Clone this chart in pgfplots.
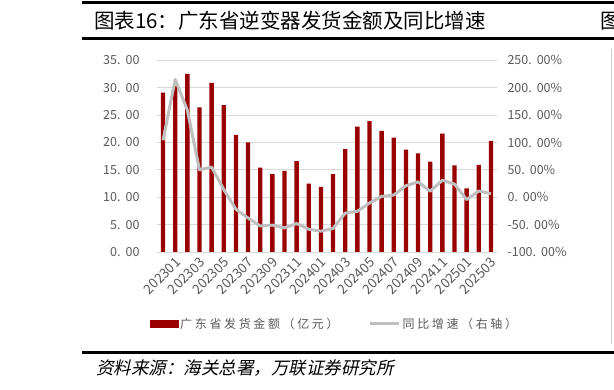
\documentclass[border=0pt]{standalone}
\usepackage{fontspec}
\setmainfont{Noto Sans CJK SC}
\newfontfamily\kai[FakeSlant=0.22]{Noto Sans CJK SC}
\newfontfamily\legfont[LetterSpace=22]{Noto Sans CJK SC}
\usepackage{pgfplots}
\pgfplotsset{compat=1.18}
\definecolor{barred}{HTML}{990000}
\definecolor{linegray}{HTML}{BFBFBF}
\definecolor{tickgray}{HTML}{595959}
\definecolor{gridgray}{HTML}{D9D9D9}
\begin{document}
\begin{tikzpicture}
\path[use as bounding box] (0pt,0pt) rectangle (614pt,389pt);
% header
\draw[black, line width=3pt] (82pt,386pt) -- (614pt,386pt);
\draw[black, line width=3pt] (82pt,350pt) -- (614pt,350pt);
\node[anchor=west, font=\fontsize{20.5}{21}\selectfont, inner sep=0pt] at (94pt,368pt) {图表16：广东省逆变器发货金额及同比增速};
\begin{scope}
\clip (590pt,352pt) rectangle (614pt,384pt);
\node[anchor=west, font=\fontsize{20.5}{21}\selectfont, inner sep=0pt] at (600pt,368pt) {图};
\end{scope}
\draw[gray!40, line width=0.6pt] (611pt,340pt) -- (611pt,45pt);
% footer
\draw[black, line width=3pt] (82pt,37pt) -- (614pt,37pt);
\node[anchor=west, font=\kai\fontsize{17.5}{18}\selectfont, inner sep=0pt, text=black] at (96pt,21pt) {资料来源：海关总署，万联证券研究所};

\begin{axis}[
  at={(157pt,137pt)}, anchor=south west,
  scale only axis, width=340pt, height=191.7pt,
  xmin=-0.5, xmax=27.5, ymin=0, ymax=35,
  ytick={0,5,...,35},
  xtick={0,2,...,26},
  xticklabels={202301,202303,202305,202307,202309,202311,202401,202403,202405,202407,202409,202411,202501,202503},
  axis line style={draw=none},
  major tick length=0pt,
  ymajorgrids, grid style={draw=gridgray, line width=0.9pt},
  tick label style={text=tickgray, font=\fontsize{12.5}{13}\selectfont},
  x tick label style={rotate=45, anchor=north east, inner sep=1pt, yshift=-10pt, xshift=6pt, font=\fontsize{13.5}{14}\selectfont},
  y tick label style={xshift=-14pt},
  /pgf/number format/assume math mode=true,
  yticklabel={\pgfmathprintnumber[fixed,fixed zerofill,precision=2,dec sep={.\hspace{0.4em}}]{\tick}},
]
\addplot[ybar, bar width=4.3pt, fill=barred, draw=none] coordinates {
(0,29.1) (1,30.3) (2,32.5) (3,26.4) (4,30.9) (5,26.8) (6,21.4) (7,20.0)
(8,15.4) (9,14.2) (10,14.8) (11,16.6) (12,12.5) (13,11.9) (14,14.2) (15,18.8)
(16,22.9) (17,23.9) (18,22.1) (19,20.9) (20,18.7) (21,18.0) (22,16.5) (23,21.6)
(24,15.8) (25,11.6) (26,15.9) (27,20.3)};
\end{axis}

\begin{axis}[
  at={(157pt,137pt)}, anchor=south west,
  scale only axis, width=340pt, height=191.7pt,
  xmin=-0.5, xmax=27.5, ymin=-100, ymax=250,
  axis y line*=right, axis x line=none,
  ytick={-100,-50,...,250},
  axis line style={draw=none},
  major tick length=0pt,
  tick label style={text=tickgray, font=\fontsize{12.5}{13}\selectfont},
  y tick label style={xshift=7pt},
  /pgf/number format/assume math mode=true,
  yticklabel={\pgfmathprintnumber[fixed,fixed zerofill,precision=2,dec sep={.\hspace{0.4em}}]{\tick}\%},
  legend style={at={(0.522,-0.375)}, anchor=center, draw=none, fill=none,
    font=\legfont\fontsize{12}{13}\selectfont, text=tickgray,
    /tikz/every even column/.append style={column sep=28pt}},
  legend columns=2,
]
\addlegendimage{legend image code/.code={\fill[barred] (0pt,-3.8pt) rectangle (28pt,3.8pt);}}
\addlegendentry{广东省发货金额（亿元）}
\addplot[linegray, line width=3pt, line join=round,
  legend image code/.code={\draw[linegray, line width=3pt] (0pt,0pt) -- (29pt,0pt);}] coordinates {
(0,104) (1,215) (2,159) (3,50) (4,55) (5,14) (6,-22) (7,-38)
(8,-52.5) (9,-51) (10,-56) (11,-48) (12,-58.5) (13,-62) (14,-57) (15,-29)
(16,-25.7) (17,-10.5) (18,1.6) (19,4) (20,21) (21,28) (22,11) (23,31)
(24,24) (25,-4.4) (26,11.4) (27,6.5)};
\addlegendentry{同比增速（右轴）}
\end{axis}
\end{tikzpicture}
\end{document}
